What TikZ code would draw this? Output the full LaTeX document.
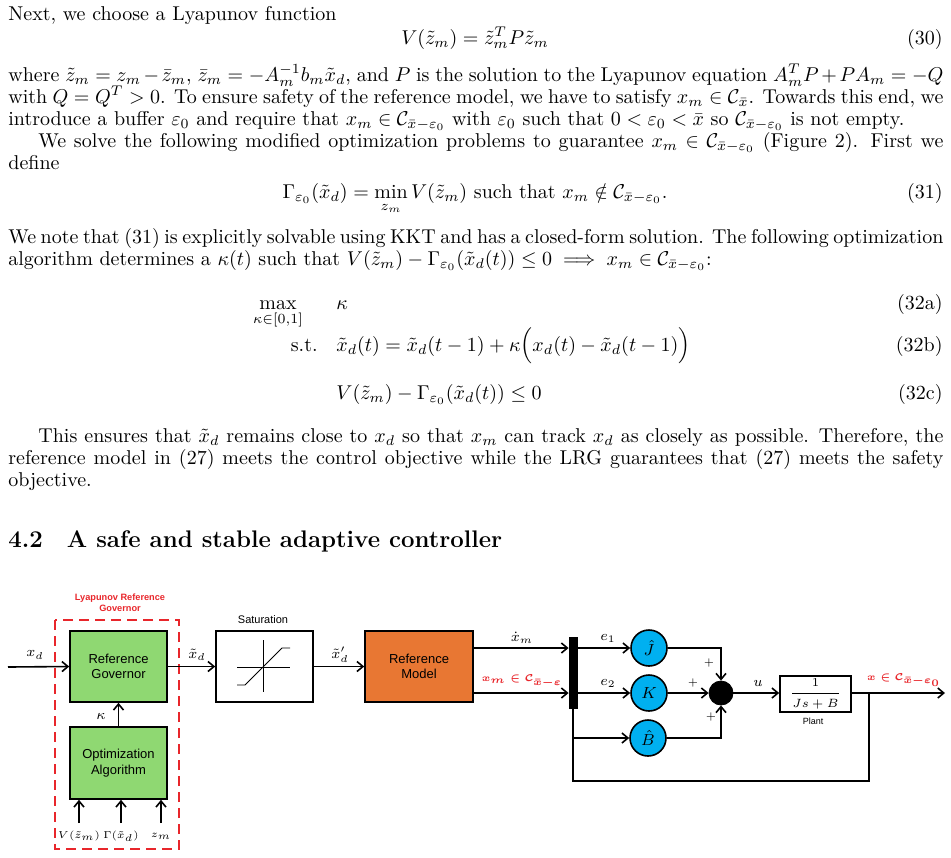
\documentclass[tikz,border=0pt]{standalone}
\usepackage{amsmath,amssymb}
\usepackage{fontspec}
\newfontfamily\dg{Liberation Sans}
\usetikzlibrary{arrows.meta}
\definecolor{gfill}{HTML}{8FD872}
\definecolor{ofill}{HTML}{E87733}
\definecolor{cfill}{HTML}{00B0F0}
\definecolor{rlab}{HTML}{E8262B}
\tikzset{
  txt/.style={anchor=base west,inner sep=0pt},
  eqn/.style={anchor=base,inner sep=0pt},
  num/.style={anchor=base east,inner sep=0pt},
  blk/.style={draw,thick,minimum width=48.5pt,minimum height=35.5pt,align=center,font=\dg\fontsize{6.5}{7.8}\selectfont,inner sep=1pt},
  circ/.style={draw,thick,circle,fill=cfill,minimum size=18pt,inner sep=0pt,font=\fontsize{8}{9}\selectfont},
  arr/.style={thick,-{Straight Barb[length=3pt,width=5pt]}},
  ln/.style={thick},
  lab/.style={inner sep=0pt,font=\fontsize{7.5}{8.5}\selectfont},
  rl/.style={inner sep=0pt,text=rlab,font=\fontsize{5.5}{6.5}\selectfont}
}
\begin{document}
\begin{tikzpicture}[x=0.5pt,y=-0.5pt,font=\fontsize{10}{11}\selectfont]
\useasboundingbox (0,0) rectangle (951,857);
\node[txt] (t1) at (8,20) {Next, we choose a Lyapunov function};
\node[eqn] (e30) at (475,44) {$V(\tilde z_m)=\tilde z_m^TP\tilde z_m$};
\node[num] (n30) at (943,44) {(30)};
\node[txt,anchor=north west] (p1) at (8,64) {\parbox{467.5pt}{where $\tilde z_m=z_m-\bar z_m$, $\bar z_m=-A_m^{-1}b_m\tilde x_d$, and $P$ is the solution to the Lyapunov equation $A_m^TP+PA_m=-Q$\linebreak with $Q=Q^T>0$. To ensure safety of the reference model, we have to satisfy $x_m\in\mathcal C_{\bar x}$. Towards this end, we\linebreak introduce a buffer $\varepsilon_0$ and require that $x_m\in\mathcal C_{\bar x-\varepsilon_0}$ with $\varepsilon_0$ such that $0<\varepsilon_0<\bar x$ so $\mathcal C_{\bar x-\varepsilon_0}$ is not empty.\par
\hspace*{15pt}We solve the following modified optimization problems to guarantee $x_m\in\mathcal C_{\bar x-\varepsilon_0}$ (Figure 2). First we\linebreak define}};
\node[eqn] (e31) at (475,198) {$\displaystyle\Gamma_{\varepsilon_0}(\tilde x_d)=\min_{z_m}V(\tilde z_m)\text{ such that }x_m\notin\mathcal C_{\bar x-\varepsilon_0}.$};
\node[num] (n31) at (943,198) {(31)};
\node[txt,anchor=north west] (p2) at (8,228) {\parbox{467.5pt}{We note that (31) is explicitly solvable using KKT and has a closed-form solution. The following optimization\linebreak algorithm determines a $\kappa(t)$ such that $V(\tilde z_m)-\Gamma_{\varepsilon_0}(\tilde x_d(t))\le0\implies x_m\in\mathcal C_{\bar x-\varepsilon_0}$:}};
\node[eqn] (mx) at (278,309) {$\displaystyle\max_{\kappa\in[0,1]}$};
\node[txt] (k) at (336,309) {$\kappa$};
\node[num] (n32a) at (943,309) {(32a)};
\node[num] (st) at (318,351) {s.t.};
\node[txt] (e32b) at (336,351) {$\tilde x_d(t)=\tilde x_d(t-1)+\kappa\Big(x_d(t)-\tilde x_d(t-1)\Big)$};
\node[num] (n32b) at (943,351) {(32b)};
\node[txt] (e32c) at (336,399) {$V(\tilde z_m)-\Gamma_{\varepsilon_0}(\tilde x_d(t))\le0$};
\node[num] (n32c) at (943,399) {(32c)};
\node[txt,anchor=north west] (p3) at (8,428) {\parbox{467.5pt}{\hspace*{15pt}This ensures that $\tilde x_d$ remains close to $x_d$ so that $x_m$ can track $x_d$ as closely as possible. Therefore, the\linebreak reference model in (27) meets the control objective while the LRG guarantees that (27) meets the safety\linebreak objective.}};
\node[txt] (h) at (8,547) {\fontsize{12}{14}\selectfont\bfseries 4.2\hspace{12pt}A safe and stable adaptive controller};

% diagram
\node[rl,align=center,font=\dg\bfseries\fontsize{4.6}{5.6}\selectfont] (lrg) at (120,603) {Lyapunov Reference\\Governor};
\draw[rlab,line width=1.3pt,dash pattern=on 5pt off 3pt] (55,620) rectangle (179,849);
\node[blk,fill=gfill] (rg) at (118.5,666.5) {Reference\\Governor};
\node[blk,fill=gfill,minimum height=36pt] (opt) at (118.5,763) {Optimization\\Algorithm};
\node[blk] (sat) at (264.5,666.5) {};
\node[lab,font=\dg\fontsize{5.5}{6.5}\selectfont] (satl) at (263,620) {Saturation};
\node[blk,fill=ofill,minimum width=54pt] (rm) at (419,666.5) {Reference\\Model};
\node[draw,fill=black,minimum width=4pt,minimum height=35.5pt,inner sep=0pt] (bar) at (573,672.5) {};
\node[circ] (J) at (649,648) {$\hat J$};
\node[circ] (K) at (649,693) {$K$};
\node[circ] (B) at (648,738) {$\hat B$};
\node[draw,fill=black,circle,minimum size=12pt,inner sep=0pt] (sum) at (721,693) {};
\node[draw,thick,minimum width=35.5pt,minimum height=18pt,inner sep=0pt,font=\fontsize{6}{7}\selectfont] (pl) at (815.5,694) {$\dfrac{1}{Js+B}$};
\node[lab,font=\dg\fontsize{4.5}{5.5}\selectfont] (pll) at (813,721) {Plant};
% saturation graph
\draw[thin] (237,667) -- (290,667) (263,640) -- (263,692);
\draw[thin] (237,685) -- (245,685) -- (282,648) -- (290,648);
% connectors
\coordinate (xin) at (8,667);
\draw[arr] (xin) -- (rg.west);
\node[lab] at (35,655) {$x_d$};
\draw[arr] (rg) -- (sat);
\node[lab] at (197,655) {$\tilde x_d$};
\draw[arr] (sat) -- (rm);
\node[lab] at (340,655) {$\tilde x_d'$};
\draw[arr] (opt) -- (rg);
\node[lab] at (101,716) {$\kappa$};
\foreach \xx/\tt in {79/{V(\tilde z_m)},121/{\Gamma(\tilde x_d)},161/{z_m}}{
  \coordinate (in\xx) at (\xx,823);
  \draw[arr] (in\xx) -- (opt.south -| in\xx);
  \node[lab,font=\fontsize{4.8}{5.5}\selectfont] at (\xx,836) {$\tt$};
}
\draw[arr] (rm.east |- 0,648) -- (bar.west |- 0,648);
\node[lab] at (522,638) {$\dot x_m$};
\draw[arr] (rm.east |- 0,693) -- (bar.west |- 0,693);
\node[rl] at (522,681) {$\boldsymbol{x_m\in\mathcal C_{\bar x-\varepsilon}}$};
\draw[arr] (bar.east |- J) -- (J);
\node[lab] at (608,638) {$e_1$};
\draw[arr] (bar.east |- K) -- (K);
\node[lab] at (608,683) {$e_2$};
\coordinate (bb) at (bar.south |- B);
\draw[ln] (bar.south) -- (bb);
\draw[arr] (bb) -- (B);
\draw[arr] (J) -| (sum);
\draw[arr] (K) -- (sum);
\draw[arr] (B) -| (sum);
\node[lab,font=\fontsize{5}{6}\selectfont] at (709,663) {$+$};
\node[lab,font=\fontsize{5}{6}\selectfont] at (693,683) {$+$};
\node[lab,font=\fontsize{5}{6}\selectfont] at (711,717) {$+$};
\draw[arr] (sum) -- (pl.west |- sum);
\node[lab] at (758,683) {$u$};
\coordinate (out) at (945,693);
\draw[arr] (pl.east |- out) -- (out);
\node[rl] at (904,680) {$\boldsymbol{x\in\mathcal C_{\bar x-\varepsilon_0}}$};
\draw[ln] (869,693) -- (869,781) -- (bar.south |- 0,781) -- (bb);
\end{tikzpicture}
\end{document}
